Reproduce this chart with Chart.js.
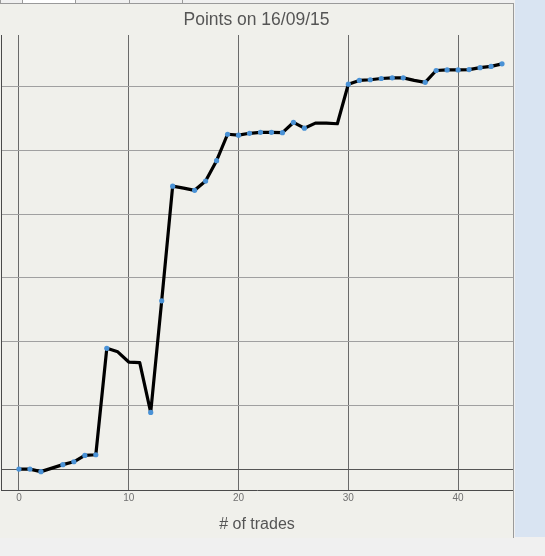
<!DOCTYPE html>
<html>
<head>
<meta charset="utf-8">
<script src="https://cdn.jsdelivr.net/npm/chart.js@4.4.0/dist/chart.umd.min.js"></script>
<style>
  html,body{margin:0;padding:0;background:#f0f0f0;}
  body{width:545px;height:556px;position:relative;overflow:hidden;font-family:"Liberation Sans",Arial,sans-serif;}
  #rightStrip{position:absolute;left:515px;top:0;width:30px;height:537px;background:#d9e4f2;}
  #panel{position:absolute;left:0;top:3px;width:513px;height:534px;background:#f0f0eb;border-right:1px solid #9a9a9a;border-bottom:1px solid #9a9a9a;border-top:1px solid #9a9a9a;box-sizing:content-box;}
  #tabs{position:absolute;left:0;top:0;width:515px;height:3px;}
  .tab{position:absolute;top:0;height:3px;border-left:1px solid #9a9a9a;border-right:1px solid #9a9a9a;background:#f0f0f0;}
  #status{position:absolute;left:0;top:538px;width:545px;height:18px;background:#f0f0f0;}
  #dot{position:absolute;left:501px;top:542px;width:14px;height:14px;border-radius:50%;background:#22a428;}
  #grip{position:absolute;left:539px;top:540px;width:1px;height:16px;background:#dcdcdc;}
  canvas{display:block;}
</style>
</head>
<body>
<div id="rightStrip"></div>
<div id="tabs">
  <div class="tab" style="left:0;width:21px;"></div>
  <div class="tab" style="left:22px;width:52px;background:#ffffff;"></div>
  <div class="tab" style="left:75px;width:53px;"></div>
  <div class="tab" style="left:129px;width:52px;"></div>
</div>
<div id="panel"><canvas id="c" width="513" height="534"></canvas></div>
<div id="status"><div id="dot"></div><div id="grip"></div></div>
<script>
const titleText = "Points on 16/09/15";
const xTitle = "# of trades";
const xTicks = [0, 10, 20, 30, 40];
const yTicks = [0, 10, 20, 30, 40, 50, 60];
const trades = [0,1,2,3,4,5,6,7,8,9,10,11,12,13,14,15,16,17,18,19,20,21,22,23,24,25,26,27,28,29,30,31,32,33,34,35,36,37,38,39,40,41,42,43,44];
const points = [0,0,-0.4,0.15,0.7,1.15,2.15,2.25,18.95,18.4,16.8,16.7,8.9,26.4,44.4,44.1,43.75,45.2,48.4,52.55,52.4,52.7,52.85,52.85,52.8,54.4,53.5,54.3,54.3,54.2,60.4,61.0,61.1,61.3,61.4,61.4,61.0,60.7,62.55,62.65,62.65,62.7,63.0,63.2,63.6];
const marked = [1,1,1,0,1,1,1,1,1,0,0,0,1,1,1,0,1,1,1,1,1,1,1,1,1,1,1,0,0,0,1,1,1,1,1,1,0,1,1,1,1,1,1,1,1];

const data = trades.map((t, i) => ({x: t, y: points[i]}));

new Chart(document.getElementById('c'), {
  type: 'line',
  data: {
    datasets: [{
      data: data,
      borderColor: '#000000',
      borderWidth: 3.2,
      borderJoinStyle: 'round',
      borderCapStyle: 'round',
      tension: 0,
      pointRadius: marked.map(m => m ? 2.6 : 0),
      pointBackgroundColor: '#4a92d6',
      pointBorderWidth: 0,
      pointHoverRadius: 0
    }]
  },
  options: {
    responsive: false,
    animation: false,
    events: [],
    layout: {padding: 0, autoPadding: false},
    plugins: {
      legend: {display: false},
      tooltip: {enabled: false},
      title: {
        display: true,
        text: titleText,
        color: '#555555',
        font: {family: '"Liberation Sans", Arial, sans-serif', size: 17.5, weight: 'normal'},
        padding: {top: 5.5, bottom: 4.5}
      }
    },
    scales: {
      x: {
        type: 'linear',
        min: -18/11,
        max: 45,
        afterBuildTicks: s => { s.ticks = xTicks.map(v => ({value: v})); },
        ticks: {
          color: '#707070',
          font: {family: '"Liberation Sans", Arial, sans-serif', size: 10},
          padding: 2,
          maxRotation: 0,
          autoSkip: false
        },
        grid: {color: '#6a6a6a', lineWidth: 1, drawTicks: false},
        border: {display: true, color: '#4a4a4a', width: 1},
        title: {
          display: true,
          text: xTitle,
          color: '#555555',
          font: {family: '"Liberation Sans", Arial, sans-serif', size: 16},
          padding: {top: 9.4, bottom: 3.4}
        }
      },
      y: {
        type: 'linear',
        min: -21/6.4,
        max: 436/6.4,
        afterBuildTicks: s => { s.ticks = yTicks.map(v => ({value: v})); },
        afterFit: s => { s.width = 1; },
        ticks: {display: false},
        grid: {
          color: c => (c.tick && c.tick.value === 0) ? '#555555' : '#a0a0a0',
          lineWidth: 1,
          drawTicks: false
        },
        border: {display: true, color: '#4a4a4a', width: 1}
      }
    }
  }
});
</script>
</body>
</html>
